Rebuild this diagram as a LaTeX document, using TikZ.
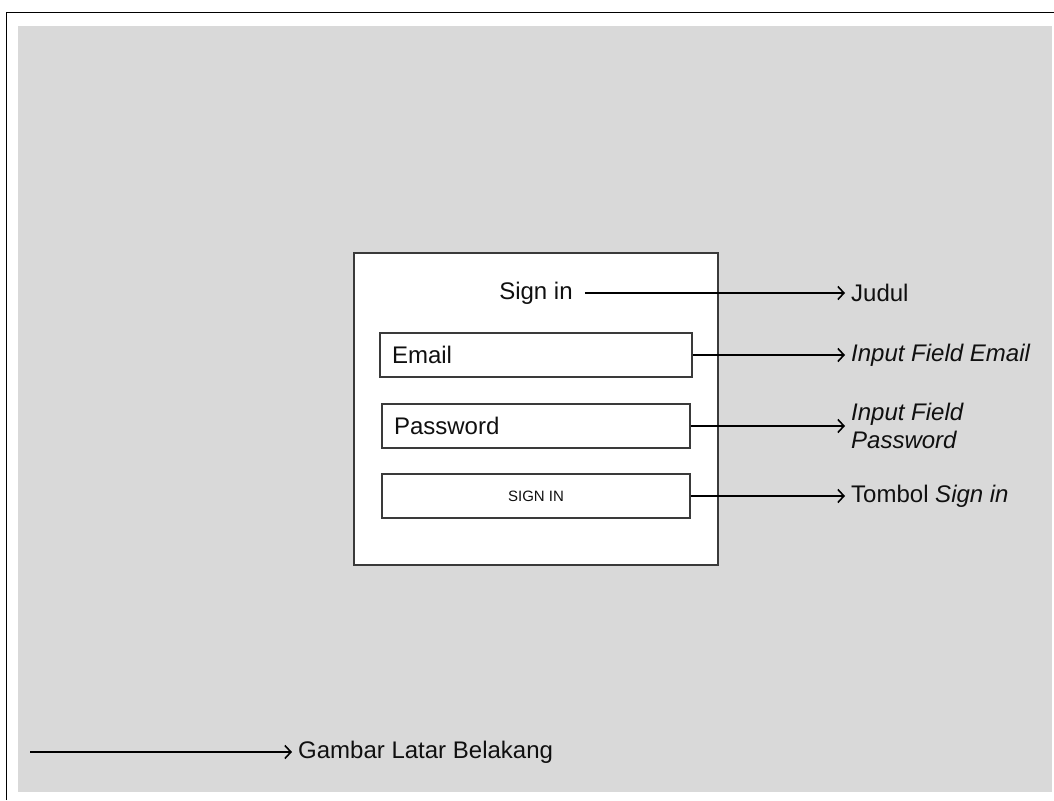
\documentclass[tikz,border=0pt]{standalone}
\usepackage{fontspec}
\setmainfont{Liberation Sans}
\usetikzlibrary{arrows.meta,positioning}
\definecolor{bg}{HTML}{D9D9D9}
\definecolor{edge}{HTML}{3A3A3A}
\definecolor{ink}{HTML}{101010}
\tikzset{
  frame/.style={draw=black, line width=1.5pt},
  card/.style={draw=edge, fill=white, line width=1.2pt, inner sep=0pt},
  field/.style={draw=edge, fill=white, line width=1.2pt, minimum height=44pt, inner xsep=12pt, align=left, text=ink, font=\fontsize{24}{28}\selectfont},
  btn/.style={draw=edge, fill=white, line width=1.2pt, minimum width=308pt, minimum height=44pt, align=center, text=ink, font=\fontsize{15}{18}\selectfont},
  title/.style={inner xsep=12pt, text=ink, font=\fontsize{24}{28}\selectfont},
  lab/.style={anchor=west, inner xsep=6pt, inner ysep=2pt, align=left, text=ink, font=\fontsize{24}{28}\selectfont},
  arr/.style={draw=black, line width=1.6pt, -{Straight Barb[length=6pt,width=13pt]}},
}
\begin{document}
\begin{tikzpicture}[x=1pt, y=-1pt]
  \useasboundingbox (0,0) rectangle (1054,800);
  % background and frame
  \draw[frame] (6.5,800) -- (6.5,12.5) -- (1054,12.5);
  \fill[bg] (18,26) rectangle (1052,792);
  % sign in card
  \node[card, minimum width=364pt, minimum height=312pt] (card) at (536,409) {};
  \node[title] (title) at (536,293) {Sign in};
  \node[field, text width=288pt] (email) at (536,355) {Email};
  \node[field, text width=284pt] (pass) at (536,426) {Password};
  \node[btn] (signbtn) at (536,496) {SIGN IN};
  % labels
  \node[lab] (judul) at (845,293) {Judul};
  \node[lab] (lemail) at (845,355) {\textit{Input Field Email}};
  \node[lab] (lpass) at (845,426) {\textit{Input Field}\\\textit{Password}};
  \node[lab] (ltombol) at (845,496) {Tombol \textit{Sign in}};
  \node[lab] (gambar) at (292,752) {Gambar Latar Belakang};
  \coordinate (bgstart) at (30,752);
  % arrows
  \draw[arr] (title.east) -- (judul.west);
  \draw[arr] (email.east) -- (lemail.west);
  \draw[arr] (pass.east) -- (lpass.west);
  \draw[arr] (signbtn.east) -- (ltombol.west);
  \draw[arr] (bgstart) -- (gambar.west);
\end{tikzpicture}
\end{document}
